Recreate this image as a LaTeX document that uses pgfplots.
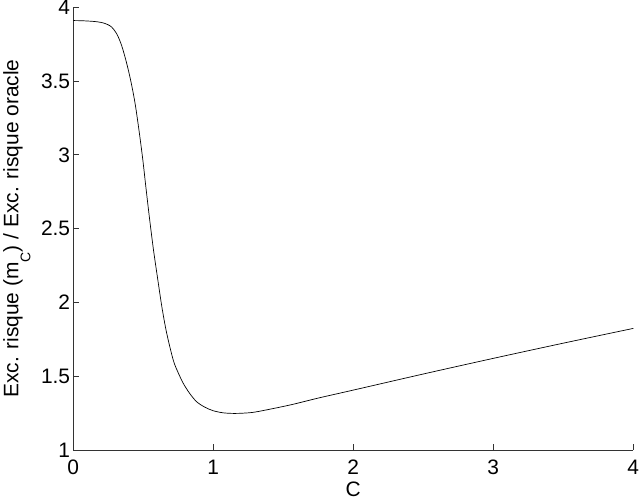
\documentclass[border=0pt]{standalone}
\usepackage{fontspec}
\setmainfont{Liberation Sans}
\usepackage{pgfplots}
\pgfplotsset{compat=1.18}

\pgfplotstableread{
C ratio
0 3.910
0.06 3.909
0.12 3.906
0.17 3.902
0.214 3.894
0.245 3.883
0.274 3.866
0.31 3.821
0.345 3.742
0.379 3.629
0.407 3.517
0.431 3.404
0.449 3.302
0.474 3.133
0.497 2.963
0.521 2.760
0.546 2.557
0.573 2.354
0.601 2.171
0.633 1.968
0.667 1.792
0.714 1.609
0.75 1.522
0.786 1.451
0.83 1.385
0.881 1.327
0.94 1.29
1.0 1.266
1.07 1.252
1.143 1.248
1.22 1.250
1.31 1.259
1.548 1.305
1.75 1.352
2.0 1.406
2.5 1.515
3.0 1.621
3.5 1.724
4.0 1.824
}\risk

\begin{document}
\fontsize{21}{25}\selectfont
\begin{tikzpicture}
\begin{axis}[
    scale only axis,
    width=560bp, height=442.7bp,
    xmin=0, xmax=4, ymin=1, ymax=4,
    xtick={0,1,2,3,4},
    ytick={1,1.5,2,2.5,3,3.5,4},
    axis lines=left,
    axis line style={-, line width=0.8pt, black!80},
    tick style={line width=0.8pt, black!80},
    tick align=inside,
    major tick length=6bp,
    /pgf/number format/assume math mode=true,
    every tick label/.append style={font=\fontsize{21}{25}\selectfont},
    xticklabel style={inner sep=0pt, anchor=north, yshift=-10bp},
    yticklabel style={inner sep=0pt, anchor=east, xshift=-3bp},
    xlabel={C},
    ylabel={Exc. risque (m\raisebox{-12bp}{\fontsize{14}{16}\selectfont C}) / Exc. risque oracle},
    xlabel style={at={(axis description cs:0.5,0)}, anchor=base, yshift=-46.7bp, inner sep=0pt},
    ylabel style={at={(axis description cs:-0.0982,0.5)}, anchor=base, inner sep=0pt},
    label style={font=\fontsize{21}{25}\selectfont},
    clip=false,
]
\addplot[black, line width=0.7pt, smooth, tension=0.5] table[x=C, y=ratio] {\risk};
\coordinate (bl) at (rel axis cs:0,0);
\coordinate (tr) at (rel axis cs:1,1);
\end{axis}
\pgfresetboundingbox
\useasboundingbox ([shift={(-73.3bp,-48bp)}]bl) rectangle ([shift={(6.7bp,7.3bp)}]tr);
\end{tikzpicture}
\end{document}
